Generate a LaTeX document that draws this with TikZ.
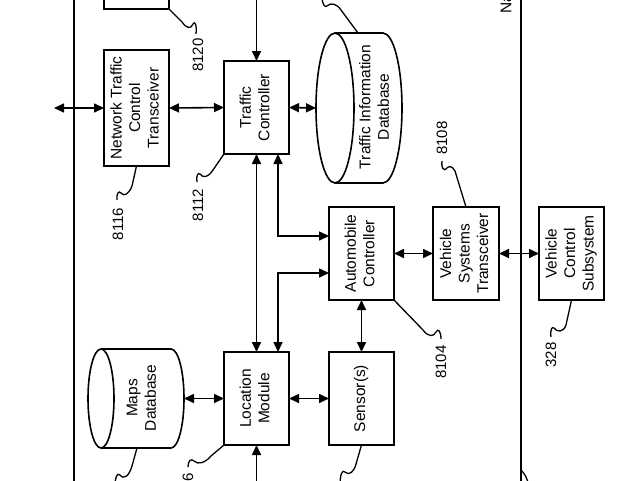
\documentclass[tikz,border=0pt]{standalone}
\usepackage{fontspec}
\usepackage{graphicx}
\newfontfamily\arialf{Liberation Sans}
\usetikzlibrary{arrows.meta}
\newcommand{\lblfont}{\arialf\fontsize{15.5}{18.5}\selectfont}
\newcommand{\numfont}{\arialf\fontsize{15}{18}\selectfont}
\newcommand{\rottext}[1]{\rotatebox{90}{\begin{tabular}{@{}c@{}}#1\end{tabular}}}
\begin{document}
\begin{tikzpicture}[x=1pt,y=-1pt,
  blk/.style={draw, line width=1.6pt, minimum width=65pt, minimum height=93pt, inner sep=0pt, outer sep=0pt, font=\lblfont},
  ghost/.style={inner sep=0pt, outer sep=0pt},
  txt/.style={inner sep=0pt, font=\lblfont},
  reflbl/.style={inner sep=0pt, font=\numfont, rotate=90},
  conn/.style={line width=1.6pt},
  dbl/.style={conn, {Triangle[length=10pt,width=9pt]}-{Triangle[length=10pt,width=9pt]}},
  arr/.style={conn, -{Triangle[length=10pt,width=9pt]}},
  lead/.style={line width=1.3pt},
  outline/.style={line width=1.6pt}
]
\useasboundingbox (0,0) rectangle (640,480);

% outer boundary (top and bottom off the page)
\draw[outline] (74,-20) rectangle (521,500);
\node[txt, rotate=90, anchor=west] (na) at (506,14) {Na};
\draw[lead] (521,470) .. controls (525,474) and (527,478) .. (529,486);

% blocks
\node[blk, minimum height=60pt] (b8120) at (136.5,-21) {};
\node[blk, minimum height=116pt] (nt) at (136.5,108) {\rottext{Network Traffic\\Control\\Transceiver}};
\node[blk] (tc) at (256.5,107.5) {\rottext{Traffic\\Controller}};
\node[blk] (ac) at (361.5,253.5) {\rottext{Automobile\\Controller}};
\node[blk, minimum width=66pt] (vst) at (466,253.5) {\rottext{Vehicle\\Systems\\Transceiver}};
\node[blk] (vcs) at (571.5,253.5) {\rottext{Vehicle\\Control\\Subsystem}};
\node[blk] (lm) at (256.5,398.5) {\rottext{Location\\Module}};
\node[blk] (sen) at (361.5,398.5) {\rottext{Sensor(s)}};

% traffic information database (cylinder)
\node[ghost, minimum width=86pt, minimum height=150pt] (tidb) at (359,108) {};
\draw[outline] (335,108) ellipse [x radius=19pt, y radius=75pt];
\draw[outline] (335,33) -- (383,33) arc[start angle=90, end angle=-90, x radius=19pt, y radius=75pt] -- (335,183);
\node[txt] (tidbt) at (376,107) {\rottext{Traffic Information\\Database}};

% maps database (cylinder)
\node[ghost, minimum width=96pt, minimum height=99pt] (mdb) at (136,398.5) {};
\draw[outline] (101,398.5) ellipse [x radius=13pt, y radius=49.5pt];
\draw[outline] (101,349) -- (171,349) arc[start angle=90, end angle=-90, x radius=13pt, y radius=49.5pt] -- (101,448);
\node[txt] (mdbt) at (143,398) {\rottext{Maps\\Database}};

% free ends
\coordinate (extL) at (54,108);
\coordinate (tcin) at (256.5,-5);
\coordinate (lmin) at (256.5,486);

% connectors
\draw[dbl] (extL) -- (nt.west);
\draw[dbl] (nt.east) -- (tc.west);
\draw[arr] (tcin) -- (tc.north);
\draw[dbl] (tc.east) -- (tidb.west);
\draw[dbl] (tc.south) -- (lm.north);
\draw[dbl] ([xshift=21.5pt]tc.south) |- ([yshift=17.5pt]ac.west);
\draw[dbl] ([yshift=-19.5pt]ac.west) -| ([xshift=21.5pt]lm.north);
\draw[dbl] (ac.east) -- (vst.west);
\draw[dbl] (vst.east) -- (vcs.west);
\draw[dbl] (ac.south) -- (sen.north);
\draw[dbl] (lm.east) -- (sen.west);
\draw[dbl] (mdb.east) -- (lm.west);
\draw[arr] (lmin) -- (lm.south);

% reference labels
\node[reflbl] (l8120) at (198,55) {8120};
\node[reflbl] (l8116) at (118,224) {8116};
\node[reflbl] (l8112) at (198,205) {8112};
\node[reflbl] (l8108) at (442,138) {8108};
\node[reflbl] (l8104) at (441,362) {8104};
\node[reflbl] (l328) at (551,355) {328};
\node[reflbl] (l6) at (188,477) {6};

% leaders
\draw[lead] (b8120.south east) -- (182,22) .. controls (187,29) and (191,29) .. (193,24) .. controls (195,20) and (197,26) .. (196,34);
\draw[lead] (nt.south) -- (132,186) .. controls (129,194) and (124,197) .. (121,193) .. controls (119,190) and (116,194) .. (117,200);
\draw[lead] (tc.south west) -- (213,170) .. controls (208,178) and (203,178) .. (200,174) .. controls (198,172) and (196,176) .. (197,182);
\draw[lead] (358,33) -- (341,10) .. controls (337,4) and (331,2) .. (327,6) .. controls (325,8) and (322,4) .. (322,-3);
\draw[lead] (vst.north) -- (455,171) .. controls (452,165) and (448,166) .. (446,169) .. controls (444,171) and (441,168) .. (442,161);
\draw[lead] (ac.south east) -- (423,330) .. controls (428,337) and (434,337) .. (436,332) .. controls (438,328) and (441,331) .. (441,339);
\draw[lead] (vcs.south) -- (566,325) .. controls (563,333) and (557,332) .. (554,328) .. controls (552,326) and (550,330) .. (551,337);
\draw[lead] (lm.south west) -- (211,456) .. controls (205,463) and (198,465) .. (194,461) .. controls (191,458) and (188,461) .. (188,467);
\draw[lead] (137,448) -- (132,466) .. controls (129,476) and (124,480) .. (120,475) .. controls (117,472) and (115,478) .. (115,486);
\draw[lead] (sen.south) -- (356,464) .. controls (354,472) and (349,476) .. (345,472) .. controls (342,469) and (340,475) .. (340,486);
\end{tikzpicture}
\end{document}
